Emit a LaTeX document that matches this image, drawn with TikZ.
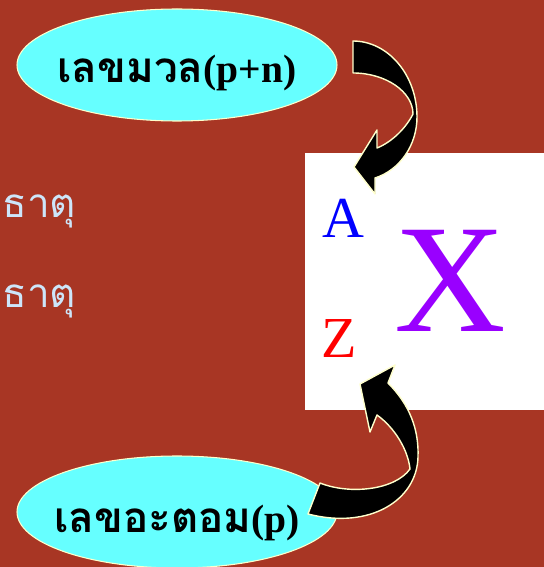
\documentclass[tikz,border=0pt]{standalone}
\usepackage{fontspec}
\newfontfamily\thaifont[Script=Thai]{Loma}
\newfontfamily\romanfont{Liberation Serif}
\definecolor{slidered}{RGB}{168,54,36}
\definecolor{bubblecyan}{RGB}{102,255,255}
\definecolor{creamline}{RGB}{255,255,204}
\definecolor{paleblue}{RGB}{205,230,250}
\definecolor{xpurple}{RGB}{153,0,255}
\usetikzlibrary{shapes.geometric}

\tikzset{
  bubble/.style={ellipse, draw=creamline, line width=0.6pt, fill=bubblecyan, minimum width=6.4cm, minimum height=2.24cm, inner sep=0pt},
  bubbletext/.style={anchor=base, inner sep=0pt, font=\bfseries},
  blockarrow/.style={fill=black, draw=creamline, line width=0.8pt, line join=round},
  sidelabel/.style={anchor=base west, inner sep=0pt, text=paleblue, font=\thaifont\fontsize{23}{23}\selectfont}
}

\begin{document}
\begin{tikzpicture}
  \fill[slidered] (0,0) rectangle (10.88,11.34);
  \useasboundingbox (0,0) rectangle (10.88,11.34);
  \clip (0,0) rectangle (10.88,11.34);

  \fill[white] (6.1,3.14) rectangle (11.2,8.28);

  \node[sidelabel] (elem1) at (0.04,6.98) {ธาตุ};
  \node[sidelabel] (elem2) at (0.04,5.18) {ธาตุ};

  \node[bubble] (mass) at (3.54,10.04) {};
  \node[bubbletext] (masstext) at (3.54,9.68) {{\thaifont\fontsize{24}{24}\selectfont เลขมวล}{\romanfont\fontsize{22.5}{22.5}\selectfont(p+n)}};
  \node[bubble] (atomic) at (3.54,1.1) {};
  \node[bubbletext] (atomictext) at (3.54,0.68) {{\thaifont\fontsize{24}{24}\selectfont เลขอะตอม}{\romanfont\fontsize{22.5}{22.5}\selectfont(p)}};

  \node[anchor=base, text=blue, font=\romanfont\fontsize{33}{33}\selectfont] (symA) at (6.86,6.58) {A};
  \node[anchor=base, text=red, font=\romanfont\fontsize{33}{33}\selectfont] (symZ) at (6.79,4.18) {Z};
  \node[anchor=base, text=xpurple, font=\romanfont\fontsize{88}{88}\selectfont] (symX) at (9.0,4.7) {X};

  % curved arrow from the mass number down to A
  \draw[blockarrow] (7.06,10.52) .. controls (7.76,10.52) and (8.34,9.84) .. (8.34,9.0)
    .. controls (8.34,8.44) and (8.0,7.94) .. (7.5,7.78) -- (7.5,7.46) -- (7.08,8.0)
    -- (7.54,8.74) -- (7.54,8.38) .. controls (7.84,8.5) and (8.12,8.78) .. (8.26,9.06)
    .. controls (8.26,9.5) and (7.72,9.88) .. (7.06,9.88) -- cycle;

  % curved arrow from the atomic number up to Z
  \draw[blockarrow] (6.4,1.68) .. controls (7.0,1.44) and (7.9,1.54) .. (8.2,1.96)
    .. controls (8.16,2.34) and (7.9,2.78) .. (7.54,3.04) -- (7.4,2.7) -- (7.2,3.66)
    -- (7.9,4.04) -- (7.76,3.68) .. controls (8.2,3.24) and (8.38,2.74) .. (8.36,2.2)
    .. controls (8.34,1.34) and (7.4,0.74) .. (6.16,1.06) -- cycle;
\end{tikzpicture}
\end{document}
